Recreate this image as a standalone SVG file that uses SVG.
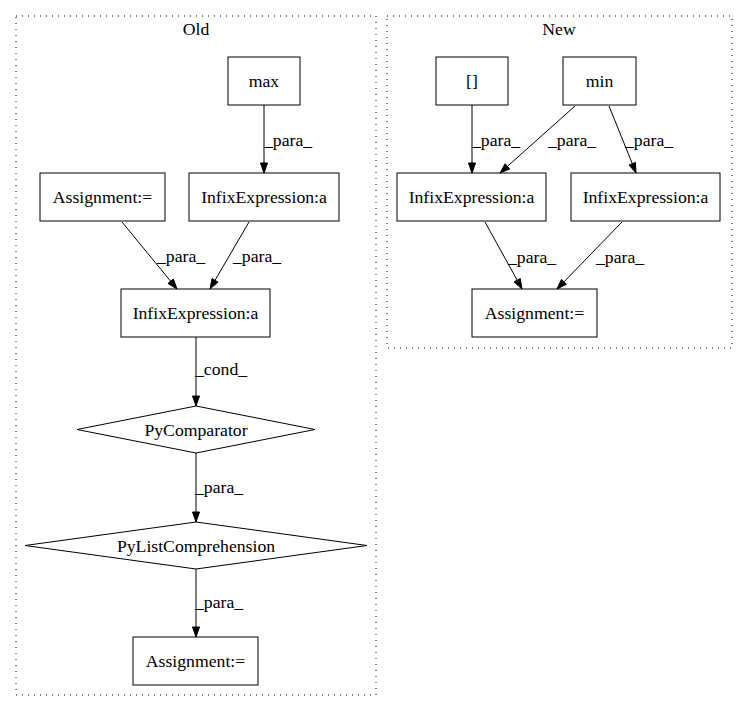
<svg xmlns="http://www.w3.org/2000/svg" width="747" height="712" viewBox="0 0 747 712">
<style>
text{font-family:"Liberation Serif","Times New Roman",serif;font-size:17.7px;fill:#000}
.c{text-anchor:middle}
.n{fill:none;stroke:#000;stroke-width:1}
.cl{fill:none;stroke:#000;stroke-width:1;stroke-dasharray:1,5}
.e{fill:none;stroke:#000;stroke-width:1}
.a{fill:#000;stroke:#000;stroke-width:1}
</style>
<rect width="747" height="712" fill="#fff"/>
<g id="cluster_old"><rect class="cl" x="16" y="16" width="360" height="679"/><text class="c" x="196" y="35">Old</text></g>
<g id="cluster_new"><rect class="cl" x="387" y="16" width="345" height="332"/><text class="c" x="559" y="35">New</text></g>
<g id="old_max"><rect class="n" x="228" y="57" width="72" height="48"/><text class="c" x="264" y="87">max</text></g>
<g id="old_assign1"><rect class="n" x="40" y="173" width="125" height="48"/><text class="c" x="102.5" y="203">Assignment:=</text></g>
<g id="old_infix1"><rect class="n" x="189" y="173" width="150" height="48"/><text class="c" x="264" y="203">InfixExpression:a</text></g>
<g id="old_infix2"><rect class="n" x="121" y="289" width="149" height="48"/><text class="c" x="195.5" y="319">InfixExpression:a</text></g>
<g id="old_pycomp"><polygon class="n" points="196,406 315,429.5 196,453 77,429.5"/><text class="c" x="196" y="435.5">PyComparator</text></g>
<g id="old_pylist"><polygon class="n" points="196,522 367,545.5 196,569 25,545.5"/><text class="c" x="196" y="551.5">PyListComprehension</text></g>
<g id="old_assign2"><rect class="n" x="133" y="637" width="125" height="48"/><text class="c" x="195.5" y="667">Assignment:=</text></g>
<g id="new_idx"><rect class="n" x="436" y="57" width="72" height="48"/><text class="c" x="472" y="87">[]</text></g>
<g id="new_min"><rect class="n" x="563" y="57" width="73" height="48"/><text class="c" x="599.5" y="87">min</text></g>
<g id="new_infix1"><rect class="n" x="397" y="173" width="149" height="48"/><text class="c" x="471.5" y="203">InfixExpression:a</text></g>
<g id="new_infix2"><rect class="n" x="571" y="173" width="149" height="48"/><text class="c" x="645.5" y="203">InfixExpression:a</text></g>
<g id="new_assign"><rect class="n" x="472" y="289" width="125" height="48"/><text class="c" x="534.5" y="319">Assignment:=</text></g>
<g id="edges">
<path class="e" d="M264,105 L264,163"/><polygon class="a" points="260.5,163 267.5,163 264,173"/><text x="264" y="146">_para_</text>
<path class="e" d="M122,222 L170.7,281.3"/><polygon class="a" points="167.95,283.49 173.37,279.05 177,289"/><text x="157" y="262">_para_</text>
<path class="e" d="M249,222 L215,280.4"/><polygon class="a" points="212,278.6 218.05,282.12 210,289"/><text x="233" y="262">_para_</text>
<path class="e" d="M196,337 L196,396"/><polygon class="a" points="192.5,396 199.5,396 196,406"/><text x="195" y="375">_cond_</text>
<path class="e" d="M196,453 L196,512"/><polygon class="a" points="192.5,512 199.5,512 196,522"/><text x="195" y="493">_para_</text>
<path class="e" d="M196,569 L196,627"/><polygon class="a" points="192.5,627 199.5,627 196,637"/><text x="195" y="608">_para_</text>
<path class="e" d="M472,105 L472,163"/><polygon class="a" points="468.5,163 475.5,163 472,173"/><text x="472" y="146">_para_</text>
<path class="e" d="M575,106 L507.5,166.3"/><polygon class="a" points="505.13,163.73 509.79,168.95 500,173"/><text x="548" y="146">_para_</text>
<path class="e" d="M609,106 L632.3,163.7"/><polygon class="a" points="629.01,165.03 635.51,162.41 636,173"/><text x="625" y="146">_para_</text>
<path class="e" d="M485,222 L517.2,280.2"/><polygon class="a" points="514.09,281.93 520.23,278.55 522,289"/><text x="508" y="263">_para_</text>
<path class="e" d="M622,222 L564,281.8"/><polygon class="a" points="561.45,279.38 566.47,284.26 557,289"/><text x="596" y="263">_para_</text>
</g>
</svg>
